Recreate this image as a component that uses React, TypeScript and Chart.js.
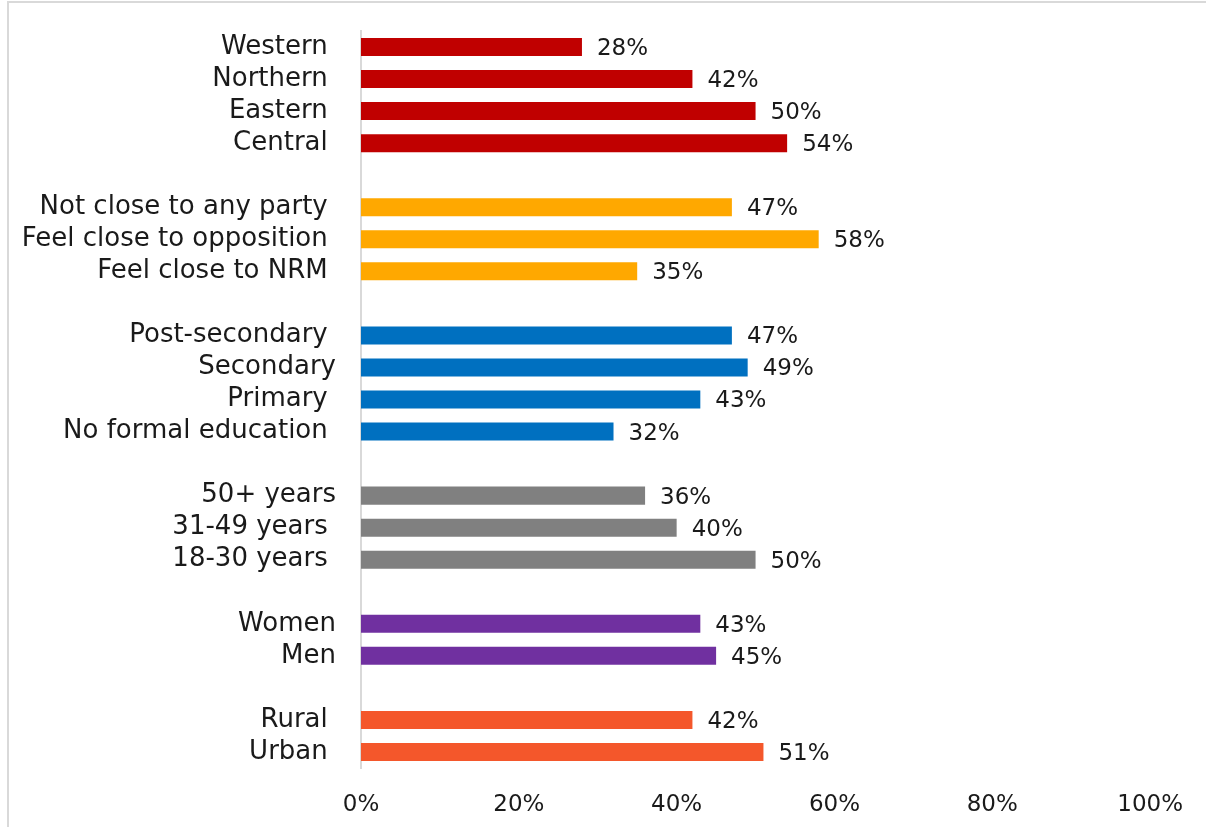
import React, { useEffect, useRef } from "react";
import { Chart, registerables } from "chart.js";

Chart.register(...registerables);

const categories: string[] = [
  "Western ", "Northern ", "Eastern ", "Central ", "",
  "Not close to any party ", "Feel close to opposition ", "Feel close to NRM ", "",
  "Post-secondary ", "Secondary", "Primary ", "No formal education ", "",
  "50+ years", "31-49 years ", "18-30 years ", "",
  "Women", "Men", "",
  "Rural ", "Urban ",
];

const values: (number | null)[] = [
  28, 42, 50, 54, null,
  47, 58, 35, null,
  47, 49, 43, 32, null,
  36, 40, 50, null,
  43, 45, null,
  42, 51,
];

const RED = "#C00000";
const ORANGE = "#FFA800";
const BLUE = "#0070C0";
const GRAY = "#808080";
const PURPLE = "#7030A0";
const CORAL = "#F4572B";

const barColors: string[] = [
  RED, RED, RED, RED, "transparent",
  ORANGE, ORANGE, ORANGE, "transparent",
  BLUE, BLUE, BLUE, BLUE, "transparent",
  GRAY, GRAY, GRAY, "transparent",
  PURPLE, PURPLE, "transparent",
  CORAL, CORAL,
];

const xTicks: number[] = [0, 20, 40, 60, 80, 100];

const FONT = "'DejaVu Sans', sans-serif";

const valueLabels = {
  id: "valueLabels",
  afterDatasetsDraw(chart: any) {
    const ctx = chart.ctx;
    const meta = chart.getDatasetMeta(0);
    ctx.save();
    ctx.font = `23px ${FONT}`;
    ctx.fillStyle = "#1a1a1a";
    ctx.textAlign = "left";
    ctx.textBaseline = "middle";
    meta.data.forEach((el: any, i: number) => {
      const v = values[i];
      if (v === null || v === undefined) return;
      ctx.fillText(`${v}%`, el.x + 15, el.y + 2);
    });
    ctx.restore();
  },
};

export default function App() {
  const ref = useRef<HTMLCanvasElement | null>(null);
  useEffect(() => {
    if (!ref.current) return;
    const chart = new Chart(ref.current, {
      type: "bar",
      data: {
        labels: categories,
        datasets: [
          {
            data: values as any,
            backgroundColor: barColors,
            categoryPercentage: 1,
            barPercentage: 0.5625,
          },
        ],
      },
      options: {
        indexAxis: "y",
        responsive: false,
        animation: false,
        layout: { padding: { top: 31, right: 55, left: 0, bottom: 0 } },
        plugins: {
          legend: { display: false },
          tooltip: { enabled: false },
        },
        scales: {
          x: {
            min: 0,
            max: 100,
            afterBuildTicks: (s: any) => {
              s.ticks = xTicks.map((v) => ({ value: v }));
            },
            afterFit: (s: any) => {
              s.height = 59;
            },
            grid: { display: false, drawTicks: false },
            border: { display: false },
            ticks: {
              padding: 23,
              color: "#1a1a1a",
              font: { family: FONT, size: 23 },
              callback: (v: any) => `${v}%`,
            },
          },
          y: {
            afterFit: (s: any) => {
              s.width = 361;
              s.paddingTop = 0;
              s.paddingBottom = 0;
            },
            grid: { display: false, drawTicks: false },
            border: { display: true, color: "#d9d9d9", width: 2 },
            ticks: {
              padding: 25,
              autoSkip: false,
              color: "#1a1a1a",
              font: { family: FONT, size: 26 },
            },
          },
        },
      },
      plugins: [valueLabels],
    });
    return () => chart.destroy();
  }, []);

  return (
    <div style={{ position: "fixed", left: 0, top: 0, width: 1206, height: 827, background: "#fff" }}>
      <div
        style={{
          position: "absolute",
          left: 7,
          top: 1,
          width: 1199,
          height: 826,
          borderTop: "2px solid #d9d9d9",
          borderLeft: "2px solid #d9d9d9",
          boxSizing: "border-box",
        }}
      />
      <canvas ref={ref} width={1206} height={827} style={{ position: "absolute", left: 0, top: 0 }} />
    </div>
  );
}
